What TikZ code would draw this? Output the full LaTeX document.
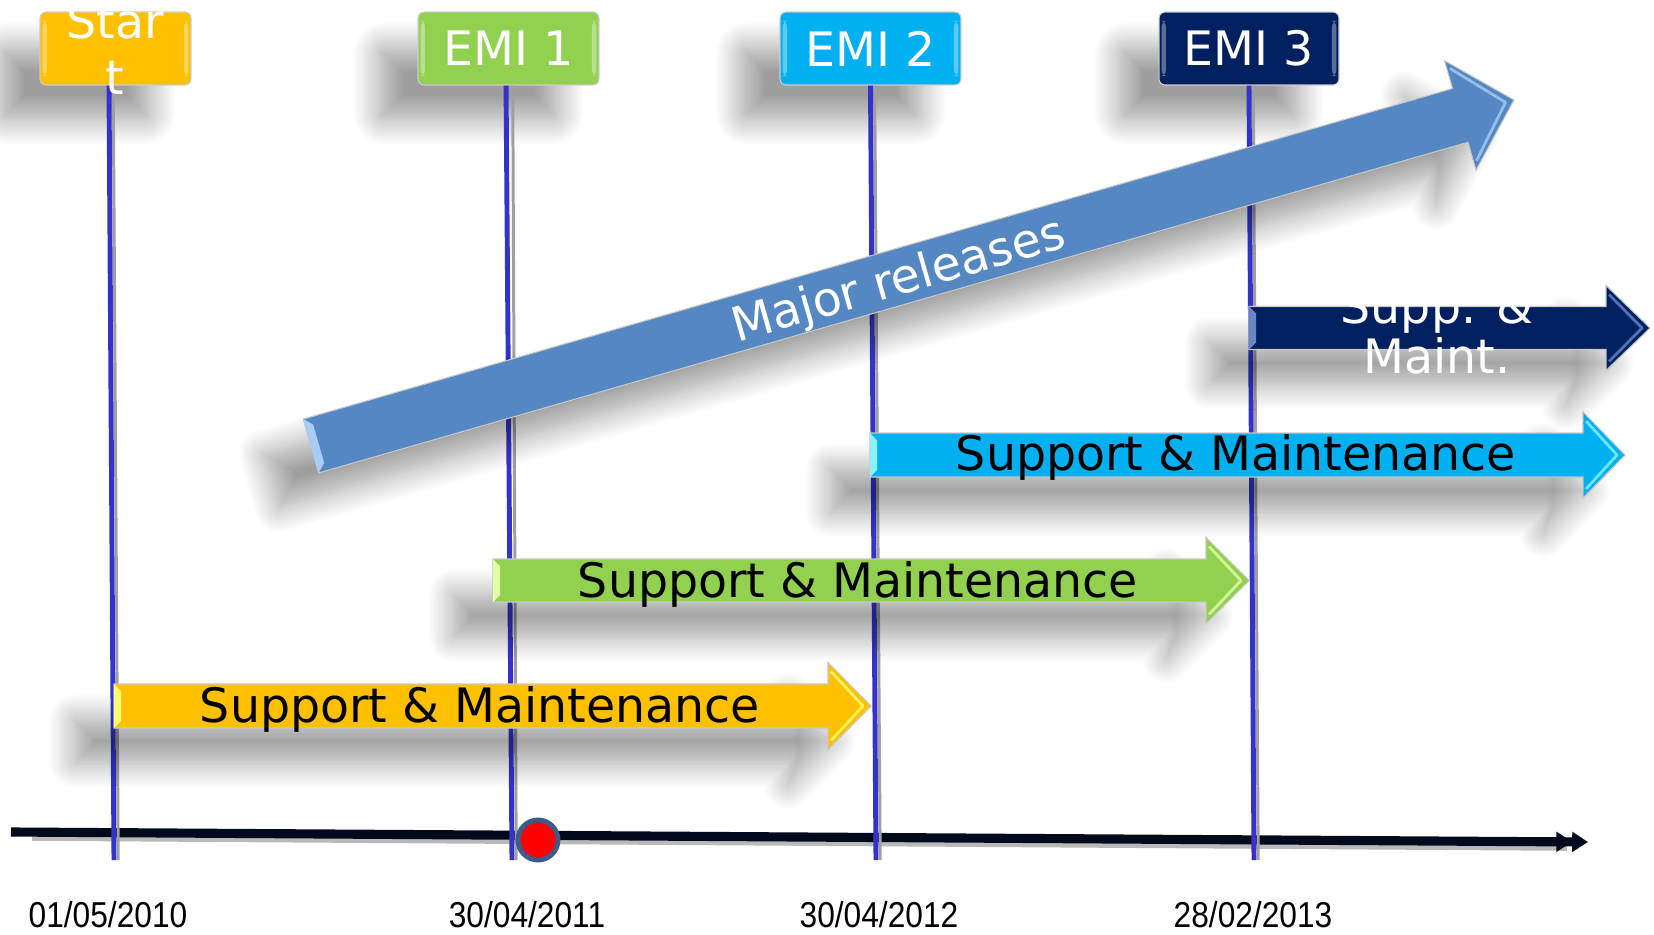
\documentclass[tikz,border=0pt]{standalone}
\usepackage{fontspec}
\usepackage{graphicx}
\setmainfont{DejaVu Sans}
\newfontfamily\datefont{Liberation Sans}
\usetikzlibrary{shadows.blur,arrows.meta}
\definecolor{yellowA}{HTML}{FFC000}
\definecolor{yellowL}{HTML}{FFFF70}
\definecolor{greenA}{HTML}{92D050}
\definecolor{greenL}{HTML}{E2FFA8}
\definecolor{cyanA}{HTML}{00B0F0}
\definecolor{cyanL}{HTML}{8AF2FF}
\definecolor{navyA}{HTML}{002060}
\definecolor{navyL}{HTML}{6688C8}
\definecolor{majorA}{HTML}{5588C2}
\definecolor{majorL}{HTML}{A8CCF8}
\definecolor{lineblue}{HTML}{3333CC}
\definecolor{axisblack}{HTML}{000A1C}
\definecolor{dotborder}{HTML}{3C5A8A}
\tikzset{
  mshadow/.style={blur shadow={shadow xshift=-0.8cm, shadow yshift=-0.7cm,
      shadow blur radius=0.5cm, shadow blur steps=24, shadow opacity=38}},
  relbox/.style={rounded corners=3.5pt, draw=white!80!black, line width=0.6pt,
      inner sep=0pt, minimum height=1.46cm, text=white,
      font=\fontsize{27}{32}\selectfont, mshadow,
      path picture={
        \fill[white,opacity=.35] ([xshift=1.5pt,yshift=-5pt]path picture bounding box.north west)
           rectangle ([xshift=4pt,yshift=5pt]path picture bounding box.south west);
        \fill[white,opacity=.35] ([xshift=-1.5pt,yshift=-5pt]path picture bounding box.north east)
           rectangle ([xshift=-4pt,yshift=5pt]path picture bounding box.south east);}},
  blockarrow/.style={draw=white!78!black, line width=0.6pt, mshadow},
  lbl/.style={font=\fontsize{27}{32}\selectfont, inner sep=0pt},
  datelbl/.style={font=\datefont\fontsize{20.5}{24}\selectfont, inner sep=0pt},
  vline/.style={line width=2.8pt, draw=lineblue},
  vshade/.style={line width=1.7pt, draw=gray!75},
  axline/.style={line width=5.2pt, draw=axisblack},
  axshade/.style={line width=5pt, draw=gray!55},
}
% horizontal block arrow: #1 fill, #2 light, #3 x tail, #4 x head base, #5 x tip, #6 y centre, #7 half body, #8 half head
\newcommand{\hblock}[8]{%
  \path[blockarrow, fill=#1] (#3,{#6-#7}) -- (#4,{#6-#7}) -- (#4,{#6-#8}) -- (#5,#6)
     -- (#4,{#6+#8}) -- (#4,{#6+#7}) -- (#3,{#6+#7}) -- cycle;
  \fill[#2] (#3,{#6-#7}) -- ({#3+7},{#6-#7+7}) -- ({#3+7},{#6+#7-7}) -- (#3,{#6+#7}) -- cycle;
  \draw[#2, line width=1.6pt, opacity=.8, line join=round]
     ({#4+3},{#6-#8+9}) -- ({#5-8},#6) -- ({#4+3},{#6+#8-9});
}
\begin{document}
\begin{tikzpicture}[x=0.02cm, y=-0.02cm]
\useasboundingbox (0,0) rectangle (1654,934);

% time axis
\coordinate (axL) at (11,832);
\coordinate (axR) at (1588,842);
\draw[axshade] ([shift={(12pt,-2.5pt)}]axL) -- ([shift={(-12pt,-2.5pt)}]axR);
\draw[axline, -{Triangle[length=9pt,width=11pt] Triangle[length=9pt,width=11pt]}] (axL) -- (axR);

% release boxes
\node[relbox, fill=yellowA, minimum width=3.02cm] (sbox) at (115.5,48.5) {};
\node[relbox, fill=greenA, minimum width=3.62cm] (e1) at (508.5,48.5) {EMI 1};
\node[relbox, fill=cyanA, minimum width=3.62cm] (e2) at (870.5,48.5) {EMI 2};
\node[relbox, fill=navyA, minimum width=3.60cm] (e3) at (1249,48.5) {EMI 3};

% bottom ends of the date lines
\coordinate (b0) at (114,860);
\coordinate (b1) at (512,860);
\coordinate (b2) at (876,860);
\coordinate (b3) at (1254,860);

% vertical date lines
\draw[vshade] ([xshift=-1.3pt]sbox.south) -- ([xshift=2.4pt]b0);
\draw[vshade] ([xshift=2.4pt]e1.south) -- ([xshift=2.4pt]b1);
\draw[vshade] ([xshift=2.4pt]e2.south) -- ([xshift=2.4pt]b2);
\draw[vshade] ([xshift=2.4pt]e3.south) -- ([xshift=2.4pt]b3);
\draw[vline] ([xshift=-3.7pt]sbox.south) -- (b0);
\draw[vline] ([xshift=-1.4pt]e1.south) -- (b1);
\draw[vline] (e2.south) -- (b2);
\draw[vline] (e3.south) -- (b3);

% current date marker
\node[circle, fill=red, draw=dotborder, line width=2.8pt, minimum size=0.8cm, inner sep=0pt] (dot) at (538,840) {};

% dates
\node[datelbl] (d0) at (108,915) {\scalebox{0.88}[1]{01/05/2010}};
\node[datelbl] (d1) at (527,915) {\scalebox{0.88}[1]{30/04/2011}};
\node[datelbl] (d2) at (879,915) {\scalebox{0.88}[1]{30/04/2012}};
\node[datelbl] (d3) at (1253,915) {\scalebox{0.88}[1]{28/02/2013}};

% support arrows
\hblock{yellowA}{yellowL}{114}{828}{871}{706}{22}{43.5}
\hblock{greenA}{greenL}{493}{1206}{1249}{580.5}{21.5}{43}
\hblock{cyanA}{cyanL}{870}{1583}{1625}{455}{22}{43}
\hblock{navyA}{navyL}{1249}{1606}{1650}{328}{21.5}{42.5}

% major releases arrow
\begin{scope}[shift={(311,446)}, rotate=16.05]
  \path[blockarrow, fill=majorA] (0,-28) -- (1195.9,-28) -- (1195.9,-57) -- (1251.8,0)
     -- (1195.9,57) -- (1195.9,28) -- (0,28) -- cycle;
  \fill[majorL] (0,-28) -- (8,-20) -- (8,20) -- (0,28) -- cycle;
  \draw[majorL, line width=1.6pt, opacity=.8, line join=round]
     (1199,-48) -- (1243,0) -- (1199,48);
\end{scope}

% texts
\node[lbl, text=white, align=center] (stxt) at (115,49) {Star\\t};
\node[lbl] (ty) at (480,709) {Support \& Maintenance};
\node[lbl] (tg) at (858,584) {Support \& Maintenance};
\node[lbl] (tc) at (1236,457) {Support \& Maintenance};
\node[lbl, text=white, align=center, font=\fontsize{27}{28.5}\selectfont] (tn) at (1437,331) {Supp. \&\\Maint.};
\node[lbl, text=white, rotate=16.05] (tm) at (899,282) {Major releases};
\end{tikzpicture}
\end{document}
